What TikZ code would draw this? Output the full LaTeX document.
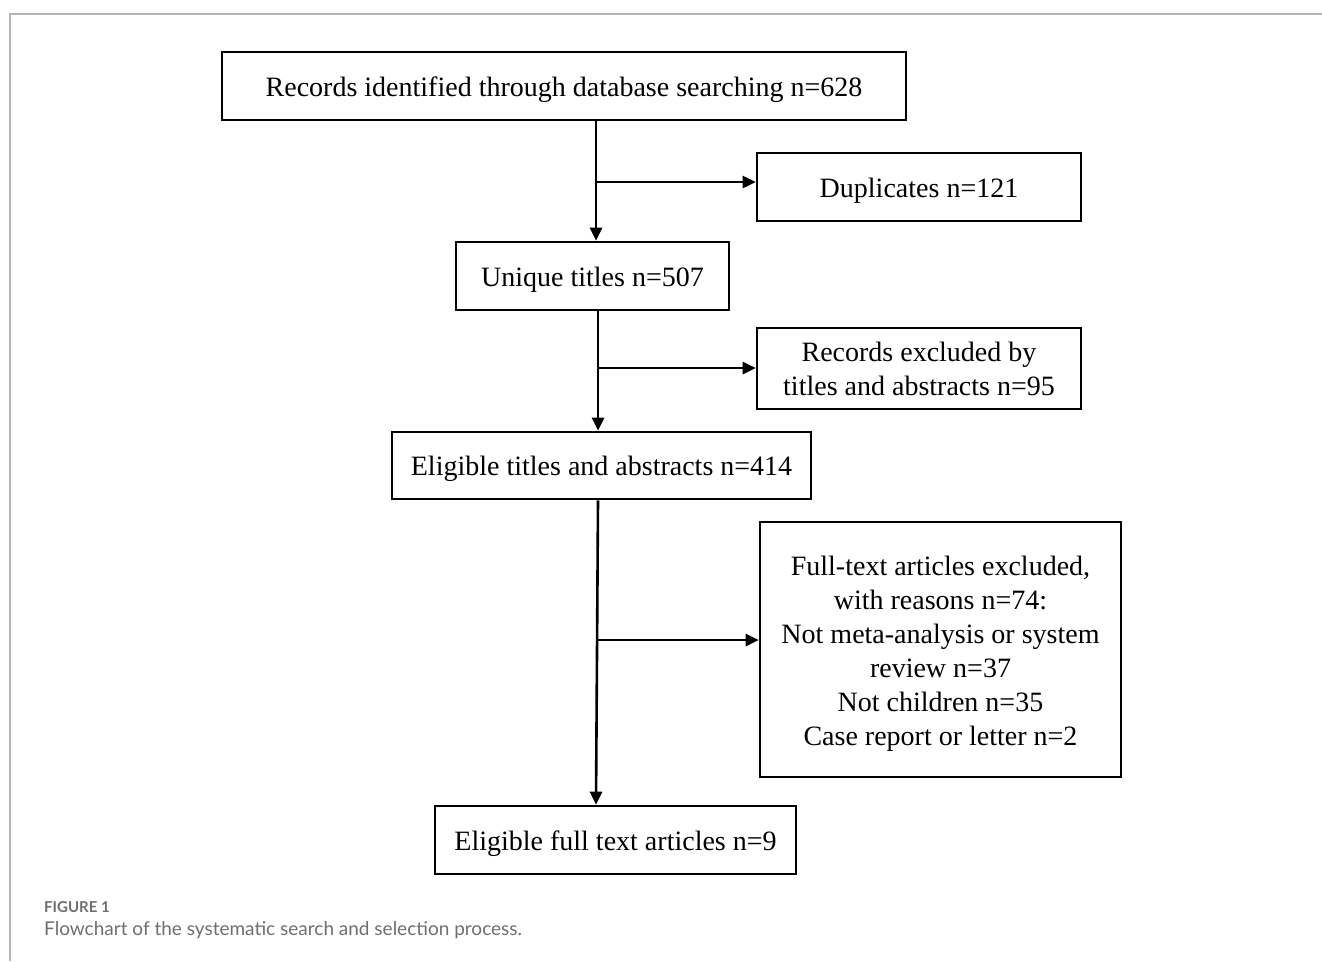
\documentclass[tikz,border=0pt]{standalone}
\usepackage{fontspec}
\setmainfont{Liberation Serif}
\newfontfamily\capfont{Lato}
\usetikzlibrary{arrows.meta}
\definecolor{framegray}{HTML}{B4B4B4}
\definecolor{capgray}{HTML}{6E6E6E}
\begin{document}
\begin{tikzpicture}[x=1pt,y=-1pt,
  box/.style n args={2}{draw, line width=2.6pt, minimum width=#1, minimum height=#2,
    inner sep=0pt, align=center, font=\fontsize{28}{34}\selectfont},
  oneline/.style={text height=20pt, text depth=0pt},
  arr/.style={line width=2.6pt, -{Triangle[length=13pt,width=12pt]}},
  captext/.style={anchor=base west, inner sep=0pt, text=capgray}]
\useasboundingbox (0,0) rectangle (1322,961);
% frame
\draw[framegray, line width=2pt] (10,961) -- (10,14) -- (1322,14);
% boxes
\node[box={684pt}{68pt}, oneline] (r1) at (564,86) {Records identified through database searching n=628};
\node[box={324pt}{68pt}, oneline] (dup) at (919,187) {Duplicates n=121};
\node[box={273pt}{68pt}, oneline] (uni) at (592.5,276) {Unique titles n=507};
\node[box={324pt}{81pt}] (exc) at (919,368.5) {Records excluded by\\titles and abstracts n=95};
\node[box={419pt}{67pt}, oneline] (elig) at (601.5,465.5) {Eligible titles and abstracts n=414};
\node[box={361pt}{255pt}] (ft) at (940.5,649.5) {\rule{0pt}{27pt}Full-text articles excluded,\\with reasons n=74:\\Not meta-analysis or system\\review n=37\\Not children n=35\\Case report or letter n=2};
\node[box={361pt}{68pt}, oneline] (fin) at (615.5,840) {Eligible full text articles n=9};
% trunks
\coordinate (t1) at (596,0);
\coordinate (t2) at (598,0);
\coordinate (t3) at (598,0);
\coordinate (t3b) at (596,0);
\draw[arr] (r1.south -| t1) -- (uni.north -| t1);
\draw[arr] (uni.south -| t2) -- (elig.north -| t2);
\draw[arr] (elig.south -| t3) -- (fin.north -| t3b);
% branches
\coordinate (b1) at (596,182);
\coordinate (b2) at (598,368);
\coordinate (b3) at (597,640);
\draw[arr] (b1) -- (b1 -| dup.west);
\draw[arr] (b2) -- (b2 -| exc.west);
\draw[arr] (b3) -- (b3 -| ft.west);
% caption
\node[captext, font=\capfont\bfseries\fontsize{15}{17}\selectfont] (fig) at (44,912) {FIGURE 1};
\node[captext, font=\capfont\fontsize{19}{22}\selectfont] (cpt) at (44,935) {Flowchart of the systematic search and selection process.};
\end{tikzpicture}
\end{document}
